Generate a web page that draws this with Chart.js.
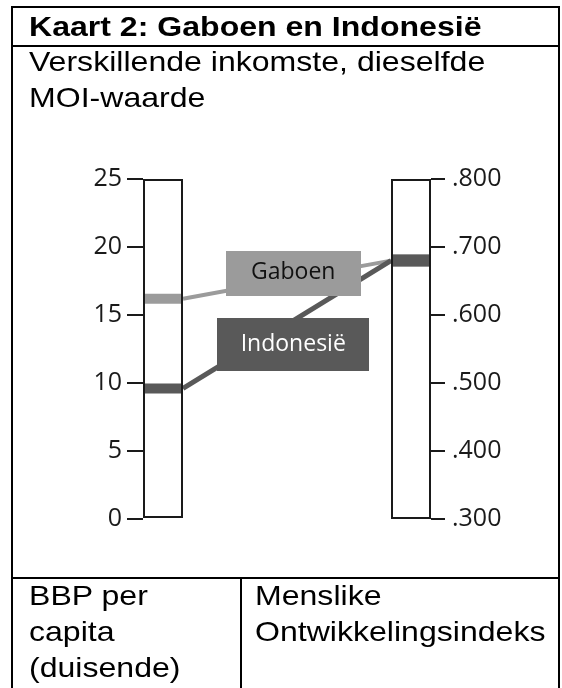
<!DOCTYPE html>
<html>
<head>
<meta charset="utf-8">
<script src="https://cdn.jsdelivr.net/npm/chart.js@4.4.0/dist/chart.umd.min.js"></script>
<style>
  html, body { margin: 0; padding: 0; background: #fff; }
  body { width: 562px; height: 688px; position: relative; overflow: hidden; }
  #chart { position: absolute; left: 0; top: 0; }
  .rule { position: absolute; background: #000; }
  .txt {
    position: absolute;
    font: 28px/36px "Liberation Sans", Arial, sans-serif;
    color: #000;
    white-space: nowrap;
    transform: scaleX(1.145);
    transform-origin: 0 0;
  }
</style>
</head>
<body>
<canvas id="chart" width="562" height="688"></canvas>

<!-- table frame -->
<div class="rule" style="left:11px;top:6px;width:549px;height:2px"></div>
<div class="rule" style="left:11px;top:6px;width:2px;height:682px"></div>
<div class="rule" style="left:558px;top:6px;width:2px;height:682px"></div>
<div class="rule" style="left:11px;top:45px;width:549px;height:2px"></div>
<div class="rule" style="left:11px;top:577px;width:549px;height:2px"></div>
<div class="rule" style="left:240px;top:577px;width:2px;height:111px"></div>

<div class="txt" style="left:29px;top:9px;font-weight:bold">Kaart 2: Gaboen en Indonesië</div>
<div class="txt" style="left:29px;top:44px">Verskillende inkomste, dieselfde<br>MOI-waarde</div>
<div class="txt" style="left:29px;top:578px">BBP per<br>capita<br>(duisende)</div>
<div class="txt" style="left:255px;top:578px">Menslike<br>Ontwikkelingsindeks</div>

<script>
// data
const columns = ['BBP per capita (duisende)', 'Menslike Ontwikkelingsindeks'];
const countries = ['Gaboen', 'Indonesië'];
const gdpThousands = [16.2, 9.6];
const hdiValues = [0.68, 0.68];
const gdpTicks = [0, 5, 10, 15, 20, 25];
const gdpTickLabels = ['0', '5', '10', '15', '20', '25'];
const hdiTicks = [0.3, 0.4, 0.5, 0.6, 0.7, 0.8];
const hdiTickLabels = ['.300', '.400', '.500', '.600', '.700', '.800'];

// styles
const countryColors = ['#9b9b9b', '#595959'];
const countryTextColors = ['#111', '#fff'];
const connectorWidths = [4, 5];
const bandWidthsL = 10, bandWidthR = 12;
const colWidth = 40;
const colPad = (colWidth / 2) / (288 - colWidth); // column edges touch the axes
const labelAt = 0.53;
const labelBoxes = [{ w: 135, h: 45, dy: -5 }, { w: 152, h: 53, dy: 24 }];
const ink = '#1a1a1a';

const connectors = {
  id: 'connectors',
  beforeDatasetsDraw(chart) {
    const { ctx } = chart;
    const left = chart.getDatasetMeta(0).data[0];
    const right = chart.getDatasetMeta(1).data[0];
    const x0 = left.x + left.width / 2;
    const x1 = right.x - right.width / 2;
    const pts = countries.map((c, i) => ({
      y0: chart.scales.yL.getPixelForValue(gdpThousands[i]),
      y1: chart.scales.yR.getPixelForValue(hdiValues[i])
    }));
    ctx.save();
    pts.forEach((p, i) => {
      ctx.strokeStyle = countryColors[i];
      ctx.lineWidth = connectorWidths[i];
      ctx.beginPath();
      ctx.moveTo(x0, p.y0);
      ctx.lineTo(x1, p.y1);
      ctx.stroke();
    });
    ctx.font = '23px "Open Sans"';
    ctx.textAlign = 'center';
    ctx.textBaseline = 'alphabetic';
    pts.forEach((p, i) => {
      const b = labelBoxes[i];
      const cx = x0 + (x1 - x0) * labelAt;
      const cy = p.y0 + (p.y1 - p.y0) * labelAt + b.dy;
      ctx.fillStyle = countryColors[i];
      ctx.fillRect(Math.round(cx - b.w / 2), Math.round(cy - b.h / 2), b.w, b.h);
      ctx.fillStyle = countryTextColors[i];
      ctx.fillText(countries[i], cx, cy + 6);
    });
    ctx.restore();
  }
};

const datasets = [
  {
    type: 'bar', label: columns[0], yAxisID: 'yL',
    data: [{ x: 0, y: [gdpTicks[0], gdpTicks[gdpTicks.length - 1]] }]
  },
  {
    type: 'bar', label: columns[1], yAxisID: 'yR',
    data: [{ x: 1, y: [hdiTicks[0], hdiTicks[hdiTicks.length - 1]] }]
  }
].map(d => Object.assign(d, {
  backgroundColor: 'rgba(0,0,0,0)',
  borderColor: ink,
  borderWidth: 2,
  borderSkipped: false,
  grouped: false,
  maxBarThickness: colWidth,
  inflateAmount: 0,
  order: 0,
  clip: false
}));

countries.forEach((c, i) => {
  const band = (axis, x, y, w) => ({
    type: 'line', label: c, yAxisID: axis,
    data: [{ x: x, y: y }],
    showLine: false,
    pointStyle: 'line',
    pointRadius: colWidth / 2,
    pointHoverRadius: colWidth / 2,
    pointBorderWidth: w,
    pointHoverBorderWidth: w,
    pointBorderColor: countryColors[i],
    pointBackgroundColor: countryColors[i],
    order: countries.length - i,
    clip: false
  });
  datasets.push(band('yL', 0, gdpThousands[i], bandWidthsL));
  datasets.push(band('yR', 1, hdiValues[i], bandWidthR));
});

new Chart(document.getElementById('chart'), {
  type: 'bar',
  data: { datasets },
  options: {
    responsive: false,
    animation: false,
    events: [],
    layout: { padding: { left: 0, right: 0, top: 179, bottom: 169 } },
    scales: {
      x: {
        type: 'linear', display: false, offset: false, min: -colPad, max: 1 + colPad,
        afterBuildTicks: s => { s.ticks = columns.map((c, i) => ({ value: i })); }
      },
      yL: {
        position: 'left',
        min: gdpTicks[0], max: gdpTicks[gdpTicks.length - 1],
        afterBuildTicks: s => { s.ticks = gdpTicks.map(v => ({ value: v })); },
        afterFit: s => { s.width = 143; },
        border: { display: false },
        grid: { drawOnChartArea: false, tickLength: 16, lineWidth: 2, color: ink },
        ticks: {
          padding: 5, color: ink, autoSkip: false,
          font: { family: 'Open Sans', size: 25 },
          callback: (v, i) => gdpTickLabels[i]
        }
      },
      yR: {
        position: 'right',
        min: hdiTicks[0], max: hdiTicks[hdiTicks.length - 1],
        afterBuildTicks: s => { s.ticks = hdiTicks.map(v => ({ value: v })); },
        afterFit: s => { s.width = 131; },
        border: { display: false },
        grid: { drawOnChartArea: false, tickLength: 14, lineWidth: 2, color: ink },
        ticks: {
          padding: 7, color: ink, autoSkip: false,
          font: { family: 'Open Sans', size: 25 },
          callback: (v, i) => hdiTickLabels[i]
        }
      }
    },
    plugins: {
      legend: { display: false },
      tooltip: { enabled: false }
    }
  },
  plugins: [connectors]
});
</script>
</body>
</html>
